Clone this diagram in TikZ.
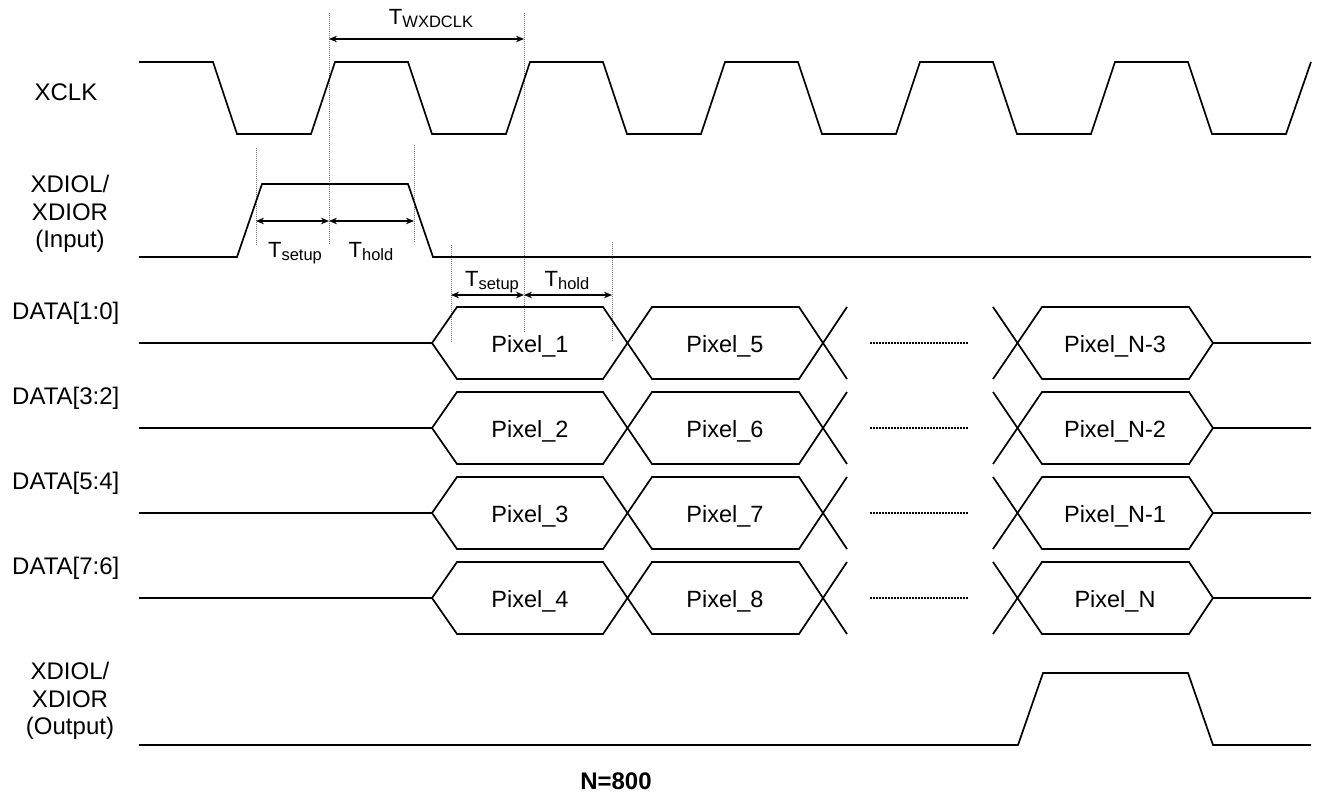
\documentclass[tikz,border=0pt]{standalone}
\usepackage{fontspec}
\setmainfont{Liberation Sans}
\usetikzlibrary{arrows.meta}
\newcommand{\Tlab}[1]{{\fontsize{22}{22}\selectfont T}\raisebox{-3pt}{\fontsize{16.5}{17}\selectfont #1}}
\begin{document}
\begin{tikzpicture}[x=1pt,y=-1pt,
  sig/.style={line width=1.7pt, line join=miter, line cap=butt},
  guide/.style={line width=0.9pt, black!55, dash pattern=on 1pt off 1pt},
  dim/.style={line width=1.3pt, {Stealth[length=8pt,width=6.5pt]}-{Stealth[length=8pt,width=6.5pt]}},
  lbl/.style={font=\fontsize{24}{27.5}\selectfont, align=center, inner sep=0pt},
  pix/.style={font=\fontsize{23.5}{27}\selectfont, inner sep=0pt},
  tl/.style={inner sep=0pt, anchor=base},
  dots/.style={line width=1.1pt, dash pattern=on 1.5pt off 1.5pt}]
\useasboundingbox (0,0) rectangle (1320,799);

% guide coordinates
\coordinate (g1t) at (329,13);  \coordinate (g1b) at (329,245);
\coordinate (g2t) at (524,13);  \coordinate (g2b) at (524,332);
\coordinate (g3t) at (256,148); \coordinate (g3b) at (256,246);
\coordinate (g4t) at (414,145); \coordinate (g4b) at (414,243);
\coordinate (g5t) at (451,245); \coordinate (g5b) at (451,343);
\coordinate (g6t) at (612,242); \coordinate (g6b) at (612,341);
\foreach \g in {1,...,6} { \draw[guide] (g\g t) -- (g\g b); }

% dimension arrows
\coordinate (w1) at (329,39);  \coordinate (w2) at (524,39);
\coordinate (s1) at (256,221); \coordinate (s2) at (329,221); \coordinate (s3) at (414,221);
\coordinate (u1) at (451,295); \coordinate (u2) at (524,295); \coordinate (u3) at (612,295);
\draw[dim] (w1) -- (w2);
\draw[dim] (s1) -- (s2);
\draw[dim] (s2) -- (s3);
\draw[dim] (u1) -- (u2);
\draw[dim] (u2) -- (u3);

\node[tl] (twx) at (431,25) {\Tlab{WXDCLK}};
\node[tl] (ts1) at (295,258) {\Tlab{setup}};
\node[tl] (th1) at (371,258) {\Tlab{hold}};
\node[tl] (ts2) at (492,287) {\Tlab{setup}};
\node[tl] (th2) at (567,287) {\Tlab{hold}};

% signal labels
\node[lbl] (lclk) at (66,92) {XCLK};
\node[lbl] (lin) at (70,214) {XDIOL/\\XDIOR\\(Input)};
\node[lbl] (lout) at (70,701) {XDIOL/\\XDIOR\\(Output)};
\node[font=\bfseries\fontsize{24}{27}\selectfont, inner sep=0pt] (nn) at (616,781) {N=800};

% XCLK
\draw[sig] (139,62) -- (213,62) -- (237,134)
  foreach \k in {0,...,4} { -- ({311+195*\k},134) -- ({335+195*\k},62) -- ({408+195*\k},62) -- ({432+195*\k},134) }
  -- (1286,134) -- (1311,62);

% XDIOL input
\draw[sig] (139,257) -- (237,257) -- (262,184) -- (408,184) -- (433,257) -- (1311,257);

% DATA rows
\foreach \r/\a/\b/\c/\lab in {0/1/5/N-3/{DATA[1:0]},1/2/6/N-2/{DATA[3:2]},2/3/7/N-1/{DATA[5:4]},3/4/8/N/{DATA[7:6]}}{
  \pgfmathsetmacro\yc{343+85*\r}
  \pgfmathsetmacro\yt{\yc-36}
  \pgfmathsetmacro\yb{\yc+36}
  \draw[sig] (139,\yc) -- (432,\yc) -- (457,\yt) -- (603,\yt) -- (652,\yb) -- (799,\yb) -- (847,\yt);
  \draw[sig] (432,\yc) -- (457,\yb) -- (603,\yb) -- (652,\yt) -- (799,\yt) -- (847,\yb);
  \draw[dots] (870,\yc) -- (969,\yc);
  \draw[sig] (993,\yt) -- (1042,\yb) -- (1189,\yb) -- (1213,\yc) -- (1311,\yc);
  \draw[sig] (993,\yb) -- (1042,\yt) -- (1189,\yt) -- (1213,\yc);
  \node[pix] (pa\r) at (530,\yc+3) {Pixel\_\a};
  \node[pix] (pb\r) at (725,\yc+3) {Pixel\_\b};
  \node[pix] (pc\r) at (1115,\yc+3) {Pixel\_\c};
  \node[lbl, anchor=west] (dl\r) at (12,\yc-30) {\lab};
}

% XDIOL output
\draw[sig] (139,745) -- (1018,745) -- (1043,673) -- (1188,673) -- (1213,745) -- (1311,745);
\end{tikzpicture}
\end{document}
